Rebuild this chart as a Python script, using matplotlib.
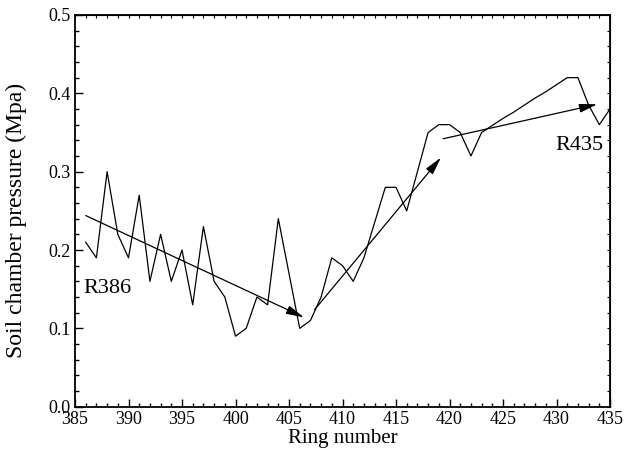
import matplotlib
matplotlib.use("Agg")
import matplotlib.pyplot as plt
from matplotlib.ticker import MultipleLocator, NullFormatter

plt.rcParams['font.family'] = ['Liberation Serif', 'DejaVu Serif']
plt.rcParams['mathtext.fontset'] = 'stix'

# Ring number and measured soil chamber pressure (MPa)
rings = list(range(386, 436))
pressure = [0.21, 0.19, 0.30, 0.22, 0.19, 0.27, 0.16, 0.22, 0.16, 0.20,
            0.13, 0.23, 0.16, 0.14, 0.09, 0.10, 0.14, 0.13, 0.24, 0.17,
            0.10, 0.11, 0.14, 0.19, 0.18, 0.16, 0.19, 0.235, 0.28, 0.28,
            0.25, 0.30, 0.35, 0.36, 0.36, 0.35, 0.32, 0.35, 0.359, 0.368,
            0.376, 0.385, 0.394, 0.402, 0.411, 0.42, 0.42, 0.385, 0.36, 0.38]

# Trend arrows: (start ring, start value, end ring, end value)
trend_starts = [(386.0, 0.244), (407.4, 0.124), (419.4, 0.342)]
trend_ends = [(406.4, 0.114), (419.2, 0.318), (433.8, 0.386)]

labels = ["R386", "R435"]
label_pos = [(385.75, 0.151), (434.4, 0.334)]
label_ha = ["left", "right"]

fig = plt.figure(figsize=(6.24, 4.61), dpi=100)
ax = fig.add_axes([0.1202, 0.1178, 0.8574, 0.8497])

ax.plot(rings, pressure, color='black', lw=0.9)

for (x0, y0), (x1, y1) in zip(trend_starts, trend_ends):
    ax.annotate("", xy=(x1, y1), xytext=(x0, y0),
                arrowprops=dict(arrowstyle='-|>,head_length=0.9,head_width=0.22',
                                color='black', lw=0.9, mutation_scale=12,
                                shrinkA=0, shrinkB=0))

for txt, (x, y), ha in zip(labels, label_pos, label_ha):
    ax.text(x, y, txt, ha=ha, va='center', fontsize=16)

ax.set_xlim(385, 435)
ax.set_ylim(0.0, 0.5)
ax.xaxis.set_major_locator(MultipleLocator(5))
ax.xaxis.set_minor_locator(MultipleLocator(1))
ax.yaxis.set_major_locator(MultipleLocator(0.1))
ax.yaxis.set_minor_locator(MultipleLocator(0.02))
ax.yaxis.set_major_formatter(plt.FormatStrFormatter('%.1f'))

ax.tick_params(which='both', direction='in', top=False, right=False,
               labelsize=13, width=1.0, pad=3)
ax.tick_params(which='major', length=6)
ax.tick_params(which='minor', length=3)
for side in ax.spines.values():
    side.set_linewidth(1.3)

# Short tick marks along the top and right frame
top = ax.secondary_xaxis('top')
top.xaxis.set_major_locator(MultipleLocator(1))
top.xaxis.set_major_formatter(NullFormatter())
top.tick_params(which='both', direction='in', length=2, width=0.8)
right = ax.secondary_yaxis('right')
right.yaxis.set_major_locator(MultipleLocator(0.02))
right.yaxis.set_major_formatter(NullFormatter())
right.tick_params(which='both', direction='in', length=2, width=0.8)

ax.set_xlabel("Ring number", fontsize=15, labelpad=1)
ax.set_ylabel("Soil chamber pressure (Mpa)", fontsize=17)
ax.yaxis.set_label_coords(-0.09, 0.475)

fig.savefig("out.png", dpi=100)
